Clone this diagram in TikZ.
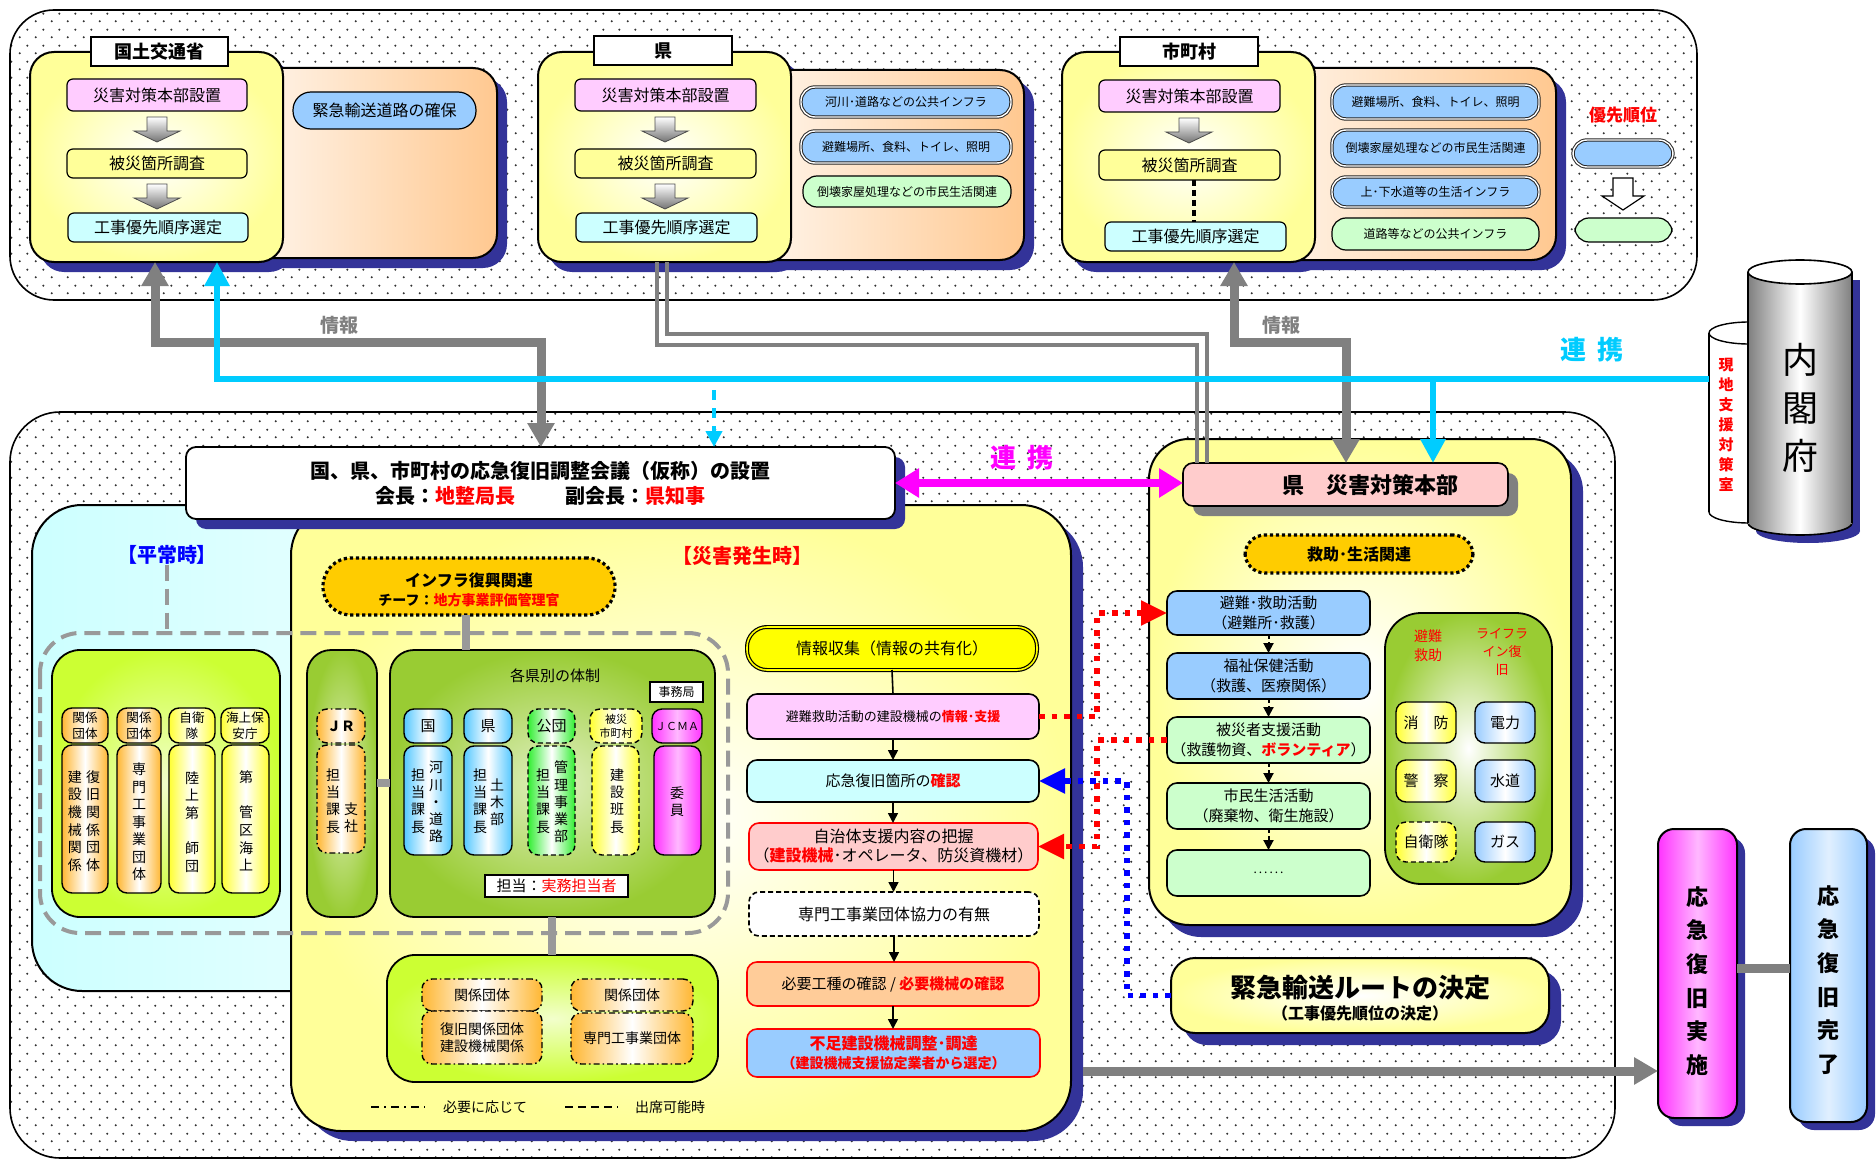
\documentclass[tikz,border=0pt]{standalone}
\usepackage{fontspec}
\setmainfont{Noto Sans CJK JP}
\usetikzlibrary{patterns,arrows.meta}
\pgfdeclarepatternformonly{bgdots}{\pgfpointorigin}{\pgfqpoint{8pt}{8pt}}{\pgfqpoint{8pt}{8pt}}{%
  \pgfpathcircle{\pgfqpoint{2pt}{2pt}}{0.6pt}%
  \pgfpathcircle{\pgfqpoint{6pt}{6pt}}{0.6pt}%
  \pgfusepath{fill}}
\definecolor{cNavy}{HTML}{333399}
\definecolor{cYlw}{HTML}{FFFF99}
\definecolor{cPeach}{HTML}{FFC890}
\definecolor{cLBlue}{HTML}{99CCFF}
\definecolor{cLGreen}{HTML}{CCFFCC}
\definecolor{cLPink}{HTML}{FFCCFF}
\definecolor{cLCyan}{HTML}{CCFFFF}
\definecolor{cGold}{HTML}{FFCC00}
\definecolor{cOlive}{HTML}{99CC33}
\definecolor{cLime}{HTML}{CCFF33}
\definecolor{cCyanL}{HTML}{00CCFF}
\definecolor{cGrayA}{HTML}{808080}
\definecolor{cGrayB}{HTML}{999999}
\definecolor{cHQ}{HTML}{FFCCCC}
\definecolor{cApricot}{HTML}{FFCC99}
\definecolor{cOrgCol}{HTML}{FFB733}
\definecolor{cMagCol}{HTML}{FF33FF}
\definecolor{cGrnCol}{HTML}{33EE33}
\definecolor{cYelCol}{HTML}{FFFF33}
\definecolor{cBluCol}{HTML}{55C8FF}
\definecolor{cMag}{HTML}{FF00FF}
\definecolor{cYelF}{HTML}{FFFF00}
\newcommand{\fz}[2]{\fontsize{#1}{#2}\selectfont}
\newcommand{\rd}[1]{{\color{red}\bfseries #1}}
% box node from corner coordinates (in px)
\newcommand{\bx}[7]{\node (#1) [#2,minimum width={(#5-#3)*0.5pt},minimum height={(#6-#4)*0.5pt}] at ({(#3+#5)/2},{(#4+#6)/2}) {#7};}
\newcommand{\garrow}[2]{\shade[top color=white,bottom color=black!55,draw=black!70,line width=0.4pt] ({#1-10},#2) -- ({#1+10},#2) -- ({#1+10},{#2+14}) -- ({#1+23},{#2+14}) -- (#1,{#2+25}) -- ({#1-23},{#2+14}) -- ({#1-10},{#2+14}) -- cycle;}
\tikzset{
  every node/.append style={inner sep=0pt,outer sep=0pt},
  ypanel/.style={draw,line width=1pt,rounded corners=12pt,shade,inner color=white,outer color=cYlw},
  opanel/.style={draw,line width=1pt,rounded corners=12pt,shade,left color=white,right color=cPeach},
  tabbox/.style={draw,line width=0.9pt,fill=white,font=\fz{9}{11}\bfseries},
  ibox/.style={draw,line width=0.6pt,rounded corners=3pt,align=center,font=\fz{8}{10}},
  pill/.style={draw=black!85,line width=0.5pt,double=white,double distance=0.7pt,rounded corners=7pt,fill=cLBlue,align=center,font=\fz{6}{7}},
  gpill/.style={draw,line width=0.6pt,rounded corners=7pt,fill=cLGreen,align=center,font=\fz{6}{7}},
  gconn/.style={draw=cGrayA,line width=4.5pt},
  gtips/.style={{Triangle[length=12pt,width=13pt]}-{Triangle[length=12pt,width=13pt]}},
  gtip/.style={-{Triangle[length=12pt,width=13pt]}},
  gthick/.style={draw=cGrayB,line width=4pt},
  cline/.style={draw=cCyanL,line width=3pt},
  ctip/.style={-{Triangle[length=12pt,width=12pt]}},
  gline/.style={draw=cGrayA,line width=2pt},
  gbox/.style={draw,line width=0.9pt,rounded corners=12pt,shade,inner color=cOlive!30,outer color=cOlive},
  lbox/.style={draw,line width=0.9pt,rounded corners=14pt,shade,inner color=cLime!25,outer color=cLime},
  colbox/.style={draw,line width=0.7pt,rounded corners=5pt,align=center,font=\fz{7}{8.6}},
  corg/.style={shade,left color=cOrgCol,right color=cOrgCol,middle color=white},
  cyel/.style={shade,left color=cYelCol,right color=cYelCol,middle color=white},
  cblu/.style={shade,left color=cBluCol,right color=cBluCol,middle color=white},
  cgrn/.style={shade,left color=cGrnCol,right color=cGrnCol,middle color=white},
  cmag/.style={shade,left color=cMagCol,right color=cMagCol,middle color=cMagCol!35},
  clb/.style={shade,left color=cLBlue,right color=cLBlue,middle color=white},
  dashdot/.style={dash pattern=on 3pt off 1.5pt on 0.8pt off 1.5pt},
  dsh/.style={dash pattern=on 2.5pt off 1.5pt},
  vtext/.style={align=center,font=\fz{7}{8.6}},
  fbox/.style={draw,line width=0.8pt,rounded corners=5pt,align=center},
  rdot/.style={draw=red,line width=2.8pt,dash pattern=on 2.8pt off 3.5pt,-{Triangle[length=13pt,width=12pt]}},
  bdot/.style={draw=blue,line width=2.8pt,dash pattern=on 2.8pt off 3.5pt,-{Triangle[length=13pt,width=12pt]}},
  farr/.style={draw,line width=0.8pt,-{Triangle[length=5pt,width=5pt]}},
  darr/.style={draw,line width=1pt,dash pattern=on 2pt off 1.5pt,-{Triangle[length=5pt,width=5pt]}},
  gdash/.style={draw=cGrayB,line width=2pt,dash pattern=on 8pt off 4pt},
}
\begin{document}
\begin{tikzpicture}[x=0.5pt,y=-0.5pt]
\useasboundingbox (0,0) rectangle (1876,1161);
\fill[white] (0,0) rectangle (1876,1161);

% ===== dotted regions
\draw[line width=0.8pt,pattern=bgdots,pattern color=black!80,rounded corners=22pt] (10,10) rectangle (1697,300);
\draw[line width=0.8pt,pattern=bgdots,pattern color=black!80,rounded corners=25pt] (10,412) rectangle (1615,1158);

% ===== MLIT
\fill[cNavy,rounded corners=12pt] (210,78) rectangle (507,268);
\fill[cNavy,rounded corners=12pt] (40,62) rectangle (293,272);
\bx{mlito}{opanel}{200}{68}{497}{258}{}
\bx{mlitp}{ypanel}{30}{52}{283}{262}{}
\bx{mlitt}{tabbox}{91}{37}{228}{66}{国土交通省}
\bx{mb1}{ibox,fill=cLPink}{67}{79}{247}{111}{災害対策本部設置}
\garrow{157}{117}
\bx{mb2}{ibox,fill=cYlw}{67}{149}{247}{178}{被災箇所調査}
\garrow{157}{184}
\bx{mb3}{ibox,fill=cLCyan}{68}{213}{248}{242}{工事優先順序選定}
\bx{mroad}{ibox,fill=cLBlue,rounded corners=9pt}{293}{92}{476}{129}{緊急輸送道路の確保}

% ===== Prefecture
\fill[cNavy,rounded corners=12pt] (710,80) rectangle (1034,270);
\fill[cNavy,rounded corners=12pt] (548,62) rectangle (801,272);
\bx{prefo}{opanel}{700}{70}{1024}{260}{}
\bx{prefp}{ypanel}{538}{52}{791}{262}{}
\bx{preft}{tabbox}{594}{36}{732}{65}{県}
\bx{pb1}{ibox,fill=cLPink}{575}{79}{756}{111}{災害対策本部設置}
\garrow{665}{117}
\bx{pb2}{ibox,fill=cYlw}{575}{149}{756}{178}{被災箇所調査}
\garrow{665}{184}
\bx{pb3}{ibox,fill=cLCyan}{576}{213}{757}{242}{工事優先順序選定}
\bx{pp1}{pill}{801}{87}{1011}{117}{河川･道路などの公共インフラ}
\bx{pp2}{pill}{801}{131}{1011}{163}{避難場所、食料、トイレ、照明}
\bx{pp3}{gpill}{803}{176}{1011}{207}{倒壊家屋処理などの市民生活関連}

% ===== Municipality
\fill[cNavy,rounded corners=12pt] (1210,78) rectangle (1566,270);
\fill[cNavy,rounded corners=12pt] (1072,62) rectangle (1325,272);
\bx{munio}{opanel}{1200}{68}{1556}{260}{}
\bx{munip}{ypanel}{1062}{52}{1315}{262}{}
\bx{munit}{tabbox}{1120}{37}{1258}{66}{市町村}
\bx{ub1}{ibox,fill=cLPink}{1099}{80}{1280}{112}{災害対策本部設置}
\garrow{1189}{118}
\bx{ub2}{ibox,fill=cYlw}{1099}{150}{1280}{180}{被災箇所調査}
\bx{ub3}{ibox,fill=cLCyan}{1105}{222}{1286}{251}{工事優先順序選定}
\draw[line width=2pt,dash pattern=on 3pt off 2pt] ([xshift=2pt]ub2.south) -- ([xshift=2pt]ub2.south |- ub3.north);
\bx{up1}{pill}{1332}{85}{1539}{119}{避難場所、食料、トイレ、照明}
\bx{up2}{pill}{1332}{130}{1539}{166}{倒壊家屋処理などの市民生活関連}
\bx{up3}{pill}{1332}{177}{1539}{207}{上･下水道等の生活インフラ}
\bx{up4}{gpill}{1332}{218}{1539}{250}{道路等などの公共インフラ}
\node (prio) [font=\fz{8.5}{10}\bfseries,text=red] at (1623,115) {優先順位};
\bx{prio1}{pill}{1573}{140}{1673}{167}{}
\bx{prio2}{gpill}{1575}{218}{1672}{242}{}
\draw[fill=white,line width=0.6pt] (1613,178) -- (1633,178) -- (1633,196) -- (1644,196) -- (1623,210) -- (1602,196) -- (1613,196) -- cycle;

% ===== Cabinet Office cylinders
\fill[white] (1709,333) rectangle (1790,512);
\draw[line width=0.7pt,fill=white] (1749,512) ellipse [x radius=20pt,y radius=5.5pt];
\fill[white] (1709,333) rectangle (1790,512);
\draw[line width=0.7pt] (1709,333) -- (1709,512);
\draw[line width=0.7pt,fill=white] (1749,333) ellipse [x radius=20pt,y radius=5.5pt];
\node (genchi) at (1726,425) [font=\fz{7.5}{10}\bfseries,text=red,align=center] {現\\地\\支\\援\\対\\策\\室};
\fill[cNavy] (1756,280) rectangle (1860,531);
\fill[cNavy] (1808,531) ellipse [x radius=26pt,y radius=6pt];
\shade[left color=black!50,right color=black!50,middle color=white,draw,line width=0.8pt] (1800,523) ellipse [x radius=26pt,y radius=6pt];
\shade[left color=black!50,right color=black!50,middle color=white] (1748,272) rectangle (1852,523);
\draw[line width=0.8pt] (1748,272) -- (1748,523) (1852,272) -- (1852,523);
\draw[line width=0.8pt,fill=white] (1800,272) ellipse [x radius=26pt,y radius=6pt];
\node (naikaku) at (1800,408) [font=\fz{18}{24},align=center] {内\\閣\\府};

% ===== Bottom: normal-time panel, disaster panel
\bx{heijo}{draw,line width=1pt,rounded corners=25pt,shade,left color=cLCyan,right color=cLCyan!40}{32}{505}{420}{991}{}
\fill[cNavy,rounded corners=25pt] (303,517) rectangle (1083,1141);
\bx{saigai}{ypanel,rounded corners=25pt}{291}{505}{1071}{1131}{}

% council
\fill[cNavy,rounded corners=5pt] (196,457) rectangle (905,529);
\bx{council}{draw,fill=white,line width=0.9pt,rounded corners=5pt,align=center,font=\fz{10}{12.5}\bfseries}{186}{447}{895}{519}{国、県、市町村の応急復旧調整会議（仮称）の設置\\会長：{\color{red}地整局長}\hspace{2.5em}副会長：{\color{red}県知事}}

\node (heijolbl) at (167,555) [font=\fz{10}{12}\bfseries,text=blue] {【平常時】};
\node (saigailbl) at (742,556) [font=\fz{10}{12}\bfseries,text=red] {【災害発生時】};
\coordinate (dashTop) at (167,633);
\draw[gdash] (heijolbl.south) -- (dashTop);
\draw[gdash,rounded corners=20pt] (40,633) rectangle (728,933);

% normal-time green box
\bx{nbox}{lbox}{52}{650}{280}{917}{}
\bx{n1h}{colbox,corg,font=\fz{6.3}{7.8}}{62}{708}{108}{743}{関係\\団体}
\bx{n1b}{colbox,corg}{62}{745}{108}{893}{}
\node (n1t1) at (93,821) [vtext,font=\fz{7}{8.8}] {復\\旧\\関\\係\\団\\体};
\node (n1t2) at (75,821) [vtext,font=\fz{7}{8.8}] {建\\設\\機\\械\\関\\係};
\bx{n2h}{colbox,corg,font=\fz{6.3}{7.8}}{117}{708}{161}{743}{関係\\団体}
\bx{n2b}{colbox,corg}{117}{745}{161}{893}{}
\node (n2t) at (139,822) [vtext,font=\fz{7}{8.75}] {専\\門\\工\\事\\業\\団\\体};
\bx{n3h}{colbox,cyel,font=\fz{6.3}{7.8}}{169}{708}{215}{743}{自衛\\隊}
\bx{n3b}{colbox,cyel}{169}{745}{215}{893}{}
\node (n3t) at (192,822) [vtext,font=\fz{7}{8.8}] {陸\\上\\第\\\phantom{師}\\師\\団};
\bx{n4h}{colbox,cyel,font=\fz{6.3}{7.8}}{221}{708}{269}{743}{海上保\\安庁}
\bx{n4b}{colbox,cyel}{222}{745}{269}{893}{}
\node (n4t) at (246,821) [vtext,font=\fz{7}{8.8}] {第\\\phantom{管}\\管\\区\\海\\上};

% infra pill
\bx{infra}{draw,line width=1.6pt,dash pattern=on 1.6pt off 1.4pt,fill=cGold,rounded corners=14pt}{323}{558}{615}{615}{}
\node (infra1) at (469,580) [font=\fz{8}{10}\bfseries] {インフラ復興関連};
\node (infra2) at (469,600) [font=\fz{7}{9}\bfseries] {チーフ：{\color{red}地方事業評価管理官}};

% JR column and big green box
\bx{jrcol}{gbox}{307}{650}{377}{917}{}
\bx{bigg}{gbox}{390}{650}{715}{917}{}
\node (bigt) at (555,676) [font=\fz{7.5}{9}] {各県別の体制};
\bx{jimu}{draw,fill=white,line width=0.6pt,font=\fz{6}{7}}{650}{682}{703}{702}{事務局}

\bx{jrh}{colbox,corg,dashdot}{317}{709}{365}{743}{\bfseries ＪＲ}
\bx{jrb}{colbox,corg,dashdot}{317}{745}{365}{853}{}
\node (jrt1) at (333,801) [vtext] {担\\当\\課\\長};
\node (jrt2) at (351,818) [vtext] {支\\社};

\bx{kh}{colbox,cblu,font=\fz{7.5}{9}}{404}{709}{452}{743}{国}
\bx{kb}{colbox,cblu}{404}{746}{452}{855}{}
\node (kt1) at (418,801) [vtext] {担\\当\\課\\長};
\node (kt2) at (436,802) [vtext] {河\\川\\・\\道\\路};

\bx{ph}{colbox,cblu,font=\fz{7.5}{9}}{464}{709}{512}{743}{県}
\bx{pbx}{colbox,cblu}{464}{746}{512}{855}{}
\node (pt1) at (480,801) [vtext] {担\\当\\課\\長};
\node (pt2) at (497,802) [vtext] {土\\木\\部};

\bx{dh}{colbox,cgrn,dsh,font=\fz{7.5}{9}}{528}{709}{575}{743}{公団}
\bx{dbx}{colbox,cgrn,dsh}{528}{746}{575}{855}{}
\node (dt1) at (543,801) [vtext] {担\\当\\課\\長};
\node (dt2) at (561,802) [vtext] {管\\理\\事\\業\\部};

\bx{sh}{colbox,cyel,dsh,font=\fz{5.5}{7}}{590}{709}{642}{743}{被災\\市町村}
\bx{sbx}{colbox,cyel,dsh}{592}{746}{639}{855}{}
\node (st) at (617,801) [vtext] {建\\設\\班\\長};

\bx{jch}{colbox,cmag,font=\fz{5.5}{7}}{652}{709}{702}{743}{ＪＣＭＡ}
\bx{jcb}{colbox,cmag}{654}{746}{701}{855}{}
\node (jct) at (677,802) [vtext] {委\\員};

\bx{tanto}{draw,fill=white,line width=0.6pt,font=\fz{7.5}{9}}{485}{875}{628}{897}{担当：{\color{red}実務担当者}}

% lower green box
\bx{lowg}{lbox}{387}{955}{718}{1082}{}
\bx{lg1h}{colbox,corg,dashdot}{422}{979}{542}{1011}{関係団体}
\bx{lg1b}{colbox,corg,dashdot}{422}{1011}{542}{1064}{復旧関係団体\\建設機械関係}
\bx{lg2h}{colbox,corg,dashdot}{571}{979}{693}{1011}{関係団体}
\bx{lg2b}{colbox,corg,dashdot}{571}{1013}{693}{1064}{専門工事業団体}

% legend
\coordinate (lgA) at (371,1107);
\coordinate (lgB) at (425,1107);
\coordinate (lgC) at (565,1107);
\coordinate (lgD) at (618,1107);
\draw[line width=1pt,dash pattern=on 4pt off 2.5pt on 1pt off 2.5pt] (lgA) -- (lgB);
\draw[line width=1pt,dash pattern=on 4pt off 2.5pt] (lgC) -- (lgD);
\node (lgt1) at (485,1107) [font=\fz{7}{9}] {必要に応じて};
\node (lgt2) at (670,1107) [font=\fz{7}{9}] {出席可能時};

% flow column
\bx{f1}{draw,line width=0.6pt,double=cYelF,double distance=0.8pt,fill=cYelF,rounded corners=10pt,font=\fz{8}{10}}{747}{627}{1037}{670}{情報収集（情報の共有化）}
\bx{f2}{fbox,fill=cLPink,font=\fz{6.5}{8}}{747}{694}{1039}{739}{避難救助活動の建設機械の\rd{情報･支援}}
\bx{f3}{fbox,fill=cLCyan,font=\fz{7.5}{9}}{747}{760}{1039}{802}{応急復旧箇所の\rd{確認}}
\bx{f4}{fbox,draw=red,fill=cHQ,font=\fz{8}{9.5}}{749}{823}{1038}{870}{自治体支援内容の把握\\（\rd{建設機械}･オペレータ、防災資機材）}
\bx{f5}{fbox,dsh,fill=white,font=\fz{8}{10}}{749}{892}{1039}{936}{専門工事業団体協力の有無}
\bx{f6}{fbox,draw=red,fill=cApricot,font=\fz{7.5}{9}}{747}{962}{1039}{1006}{必要工種の確認 / \rd{必要機械の確認}}
\bx{f7}{fbox,draw=red,fill=cLBlue,font=\fz{8}{9.5}}{747}{1029}{1040}{1077}{\rd{不足建設機械調整･調達}\\{\fz{7}{9}\rd{（建設機械支援協定業者から選定）}}}
\draw[line width=0.8pt] (f1.south) -- (f2.north);
\draw[farr] (f2.south) -- (f3.north);
\draw[farr] (f3.south) -- (f3.south |- f4.north);
\draw[farr] (f4.south) -- (f4.south |- f5.north);
\draw[farr] (f5.south) -- (f5.south |- f6.north);
\draw[farr] (f6.south) -- (f6.south |- f7.north);

% connectors inside disaster panel
\coordinate (xL) at (466,0);
\coordinate (xM) at (552,0);
\coordinate (yB) at (0,783);
\draw[gthick] (infra.south -| xL) -- (bigg.north -| xL);
\draw[gthick] (jrcol.east |- yB) -- (bigg.west |- yB);
\draw[gthick] (bigg.south -| xM) -- (lowg.north -| xM);

% ===== Prefecture HQ panel
\fill[cNavy,rounded corners=20pt] (1161,451) rectangle (1583,937);
\bx{kenp}{ypanel,rounded corners=20pt}{1149}{439}{1571}{925}{}
\fill[cGrayA,rounded corners=5pt] (1193,473) rectangle (1518,516);
\bx{hq}{draw,line width=0.8pt,fill=cHQ,rounded corners=5pt}{1183}{463}{1508}{506}{}
\node (hqt) at (1370,485) [font=\fz{11}{13}\bfseries] {県\quad 災害対策本部};
\bx{kyujo}{draw,line width=1.6pt,dash pattern=on 1.6pt off 1.4pt,fill=cGold,rounded corners=10pt,font=\fz{8}{10}\bfseries}{1245}{535}{1473}{573}{救助･生活関連}
\bx{r1}{fbox,fill=cLBlue,font=\fz{7.5}{10}}{1167}{591}{1370}{635}{避難･救助活動\\（避難所･救護）}
\bx{r2}{fbox,fill=cLBlue,font=\fz{7.5}{10}}{1167}{653}{1370}{699}{福祉保健活動\\（救護、医療関係）}
\bx{r3}{fbox,fill=cLGreen,font=\fz{7.5}{10}}{1167}{717}{1370}{763}{被災者支援活動\\（救護物資、\rd{ボランティア}）}
\bx{r4}{fbox,fill=cLGreen,font=\fz{7.5}{10}}{1167}{783}{1370}{829}{市民生活活動\\（廃棄物、衛生施設）}
\bx{r5}{fbox,fill=cLGreen,font=\fz{6}{8}}{1167}{850}{1370}{896}{.\,.\,.\,.\,.\,.}
\draw[darr] (r1.south) -- (r2.north);
\draw[darr] (r2.south) -- (r3.north);
\draw[darr] (r3.south) -- (r4.north);
\draw[darr] (r4.south) -- (r5.north);

\bx{hqg}{draw,line width=0.9pt,rounded corners=18pt,shade,inner color=white,outer color=cOlive}{1385}{613}{1552}{884}{}
\node (hqg1) at (1428,646) [font=\fz{7}{9.5},text=red,align=center] {避難\\救助};
\node (hqg2) at (1502,652) [font=\fz{6.5}{9},text=red,align=center] {ライフラ\\イン復\\旧};
\bx{shobo}{colbox,cyel,font=\fz{7.5}{9}}{1396}{702}{1456}{743}{消\quad 防}
\bx{keisatsu}{colbox,cyel,font=\fz{7.5}{9}}{1396}{760}{1456}{802}{警\quad 察}
\bx{jieitai}{colbox,cyel,dsh,font=\fz{7.5}{9}}{1396}{822}{1456}{862}{自衛隊}
\bx{denryoku}{colbox,clb,font=\fz{7.5}{9}}{1475}{702}{1535}{743}{電力}
\bx{suido}{colbox,clb,font=\fz{7.5}{9}}{1475}{760}{1535}{802}{水道}
\bx{gas}{colbox,clb,font=\fz{7.5}{9}}{1475}{822}{1535}{862}{ガス}

% emergency route box
\fill[cNavy,rounded corners=12pt] (1183,970) rectangle (1561,1045);
\bx{kinkyu}{draw,line width=1pt,rounded corners=12pt,shade,inner color=white,outer color=cYlw}{1171}{958}{1549}{1033}{}
\node (kinkyu1) at (1360,988) [font=\fz{13}{15}\bfseries] {緊急輸送ルートの決定};
\node (kinkyu2) at (1360,1013) [font=\fz{8}{10}\bfseries] {（工事優先順位の決定）};

% right vertical boxes
\fill[cNavy,rounded corners=8pt] (1666,837) rectangle (1745,1126);
\bx{jisshi}{draw,line width=1pt,rounded corners=8pt,cmag}{1658}{829}{1737}{1118}{}
\node (jisshit) at (1697,981) [align=center,font=\fz{11}{16.8}\bfseries] {応\\急\\復\\旧\\実\\施};
\fill[cNavy,rounded corners=8pt] (1798,837) rectangle (1875,1130);
\bx{kanryo}{draw,line width=1pt,rounded corners=8pt,shade,left color=cLBlue,right color=cLBlue,middle color=cLBlue!30}{1790}{829}{1867}{1122}{}
\node (kanryot) at (1828,980) [align=center,font=\fz{11}{16.8}\bfseries] {応\\急\\復\\旧\\完\\了};

% ===== connectors
\coordinate (xA) at (155,0);
\coordinate (xB) at (541,0);
\coordinate (xC) at (217,0);
\coordinate (xD) at (1234,0);
\coordinate (xE) at (1346,0);
\coordinate (xF) at (1433,0);
\coordinate (xH) at (657,0);
\coordinate (xI) at (1197,0);
\coordinate (xJ) at (667,0);
\coordinate (xK) at (1207,0);
\coordinate (yA) at (0,379);
\coordinate (yE) at (0,342);
\coordinate (yF) at (0,345);
\coordinate (yG) at (0,334);
\coordinate (yC) at (0,1071);
\coordinate (yD) at (0,968);
\coordinate (cyEnd) at (1709,379);
\coordinate (cyDash) at (714,390);

\draw[gline] (prefp.south -| xH) -- (xH |- yF) -- (xI |- yF) -- (hq.north -| xI);
\draw[gline] (prefp.south -| xJ) -- (xJ |- yG) -- (xK |- yG) -- (hq.north -| xK);
\draw[gconn,gtips] (mlitp.south -| xA) -- (xA |- yE) -- (xB |- yE) -- (council.north -| xB);
\draw[gconn,gtips] (munip.south -| xD) -- (xD |- yE) -- (xE |- yE) -- (hq.north -| xE);
\draw[cline,ctip] (cyEnd) -- (xC |- yA) -- (mlitp.south -| xC);
\draw[cline,ctip] (xF |- yA) -- (hq.north -| xF);
\draw[draw=cCyanL,line width=2pt,dash pattern=on 5pt off 4pt,-{Triangle[length=8pt,width=8pt]}] (cyDash) -- (council.north -| cyDash);
\node (info1) at (339,325) [font=\fz{9.5}{11}\bfseries,text=cGrayA] {情報};
\node (info2) at (1281,325) [font=\fz{9.5}{11}\bfseries,text=cGrayA] {情報};
\node (renkei1) at (1592,350) [font=\fz{13}{15}\bfseries,text=cCyanL] {連\hspace{0.4em}携};
\node (renkei2) at (1022,458) [font=\fz{13}{15}\bfseries,text=cMag] {連\hspace{0.4em}携};
\draw[draw=cMag,line width=4pt,{Triangle[length=12pt,width=14pt]}-{Triangle[length=12pt,width=14pt]}] (council.east) -- (council.east -| hq.west);

\draw[rdot] (f2.east) -- ++(58,0) |- (r1.west);
\draw[rdot] (r3.west) -- ++(-70,0) |- (f4.east);
\draw[bdot] (kinkyu.west) -- ++(-44,0) |- (f3.east);

\draw[gconn,gtip] ([xshift=6pt]saigai.east |- yC) -- (jisshi.west |- yC);
\draw[gconn] (jisshi.east |- yD) -- (kanryo.west |- yD);
\end{tikzpicture}
\end{document}
